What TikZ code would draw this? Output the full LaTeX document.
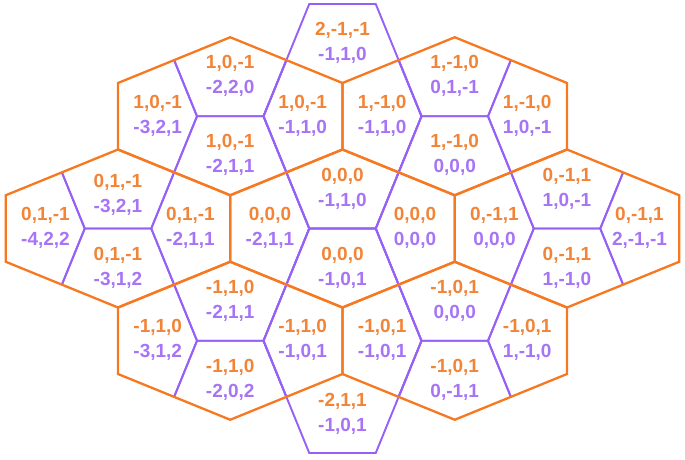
\documentclass[tikz,border=0pt]{standalone}
\usepackage{fontspec}
\setmainfont{Liberation Sans}
\definecolor{oline}{RGB}{246,120,32}
\definecolor{pline}{RGB}{150,96,246}
\definecolor{otxt}{RGB}{242,132,56}
\definecolor{ptxt}{RGB}{166,116,245}
\newcommand\hexlabel[4]{\node[lbl] (#1) at (#2) {\textcolor{otxt}{#3}\\\textcolor{ptxt}{#4}};}
\begin{document}
\begin{tikzpicture}[x=1pt,y=-1pt,
  oedge/.style={draw=oline,line width=2.3pt,line join=miter},
  pedge/.style={draw=pline,line width=1.9pt,line join=miter},
  lbl/.style={align=center,inner sep=0pt,font=\bfseries\fontsize{19}{25}\selectfont}]
\useasboundingbox (0,0) rectangle (685,459);
% purple lattice, clipped to the union of the orange hexagons
\begin{scope}
\clip \foreach \m/\n in {0/0,-1/-1,1/-1,-2/0,2/0,-1/1,1/1} {
  ({342.5+112.25*\m},{228.5+112.25*\n-79}) --
  ({342.5+112.25*\m+112.25},{228.5+112.25*\n-33.25}) --
  ({342.5+112.25*\m+112.25},{228.5+112.25*\n+33.25}) --
  ({342.5+112.25*\m},{228.5+112.25*\n+79}) --
  ({342.5+112.25*\m-112.25},{228.5+112.25*\n+33.25}) --
  ({342.5+112.25*\m-112.25},{228.5+112.25*\n-33.25}) -- cycle };
\foreach \m/\n in {-3/-2,-3/0,-3/2,-2/-1,-2/1,-1/-2,-1/0,-1/2,0/-1,0/1,1/-2,1/0,1/2,2/-1,2/1,3/-2,3/0,3/2} {
  \draw[pedge]
  ({342.5+112.25*\m-79},{228.5+112.25*\n}) --
  ({342.5+112.25*\m-33.25},{228.5+112.25*\n-112.25}) --
  ({342.5+112.25*\m+33.25},{228.5+112.25*\n-112.25}) --
  ({342.5+112.25*\m+79},{228.5+112.25*\n}) --
  ({342.5+112.25*\m+33.25},{228.5+112.25*\n+112.25}) --
  ({342.5+112.25*\m-33.25},{228.5+112.25*\n+112.25}) -- cycle;
}
\end{scope}
% top and bottom purple hexagons drawn in full
\foreach \m/\n in {0/-1,0/1} {
  \draw[pedge]
  ({342.5+112.25*\m-79},{228.5+112.25*\n}) --
  ({342.5+112.25*\m-33.25},{228.5+112.25*\n-112.25}) --
  ({342.5+112.25*\m+33.25},{228.5+112.25*\n-112.25}) --
  ({342.5+112.25*\m+79},{228.5+112.25*\n}) --
  ({342.5+112.25*\m+33.25},{228.5+112.25*\n+112.25}) --
  ({342.5+112.25*\m-33.25},{228.5+112.25*\n+112.25}) -- cycle;
}
% orange hexagons
\foreach \m/\n in {0/0,-1/-1,1/-1,-2/0,2/0,-1/1,1/1} {
  \draw[oedge]
  ({342.5+112.25*\m},{228.5+112.25*\n-79}) --
  ({342.5+112.25*\m+112.25},{228.5+112.25*\n-33.25}) --
  ({342.5+112.25*\m+112.25},{228.5+112.25*\n+33.25}) --
  ({342.5+112.25*\m},{228.5+112.25*\n+79}) --
  ({342.5+112.25*\m-112.25},{228.5+112.25*\n+33.25}) --
  ({342.5+112.25*\m-112.25},{228.5+112.25*\n-33.25}) -- cycle;
}
% labels
\hexlabel{pt}{342.5,42.5}{2,-1,-1}{-1,1,0}
\hexlabel{pb}{342.5,413.5}{-2,1,1}{-1,0,1}
\hexlabel{at}{230.25,76.25}{1,0,-1}{-2,2,0}
\hexlabel{al}{157.75,115.75}{1,0,-1}{-3,2,1}
\hexlabel{ar}{302.75,115.75}{1,0,-1}{-1,1,0}
\hexlabel{ab}{230.25,155.25}{1,0,-1}{-2,1,1}
\hexlabel{bt}{454.75,76.25}{1,-1,0}{0,1,-1}
\hexlabel{bl}{382.25,115.75}{1,-1,0}{-1,1,0}
\hexlabel{br}{527.25,115.75}{1,-1,0}{1,0,-1}
\hexlabel{bb}{454.75,155.25}{1,-1,0}{0,0,0}
\hexlabel{ct}{118,194.5}{0,1,-1}{-3,2,1}
\hexlabel{cl}{45.5,228}{0,1,-1}{-4,2,2}
\hexlabel{cr}{190.5,228}{0,1,-1}{-2,1,1}
\hexlabel{cb}{118,267.5}{0,1,-1}{-3,1,2}
\hexlabel{dt}{342.5,188.5}{0,0,0}{-1,1,0}
\hexlabel{dl}{270,228}{0,0,0}{-2,1,1}
\hexlabel{dr}{415,228}{0,0,0}{0,0,0}
\hexlabel{db}{342.5,267.5}{0,0,0}{-1,0,1}
\hexlabel{et}{567,188.5}{0,-1,1}{1,0,-1}
\hexlabel{el}{494.5,228}{0,-1,1}{0,0,0}
\hexlabel{er}{639.5,228}{0,-1,1}{2,-1,-1}
\hexlabel{eb}{567,267.5}{0,-1,1}{1,-1,0}
\hexlabel{ft}{230.25,300.75}{-1,1,0}{-2,1,1}
\hexlabel{fl}{157.75,340.25}{-1,1,0}{-3,1,2}
\hexlabel{fr}{302.75,340.25}{-1,1,0}{-1,0,1}
\hexlabel{fb}{230.25,379.75}{-1,1,0}{-2,0,2}
\hexlabel{gt}{454.75,300.75}{-1,0,1}{0,0,0}
\hexlabel{gl}{382.25,340.25}{-1,0,1}{-1,0,1}
\hexlabel{gr}{527.25,340.25}{-1,0,1}{1,-1,0}
\hexlabel{gb}{454.75,379.75}{-1,0,1}{0,-1,1}
\end{tikzpicture}
\end{document}
